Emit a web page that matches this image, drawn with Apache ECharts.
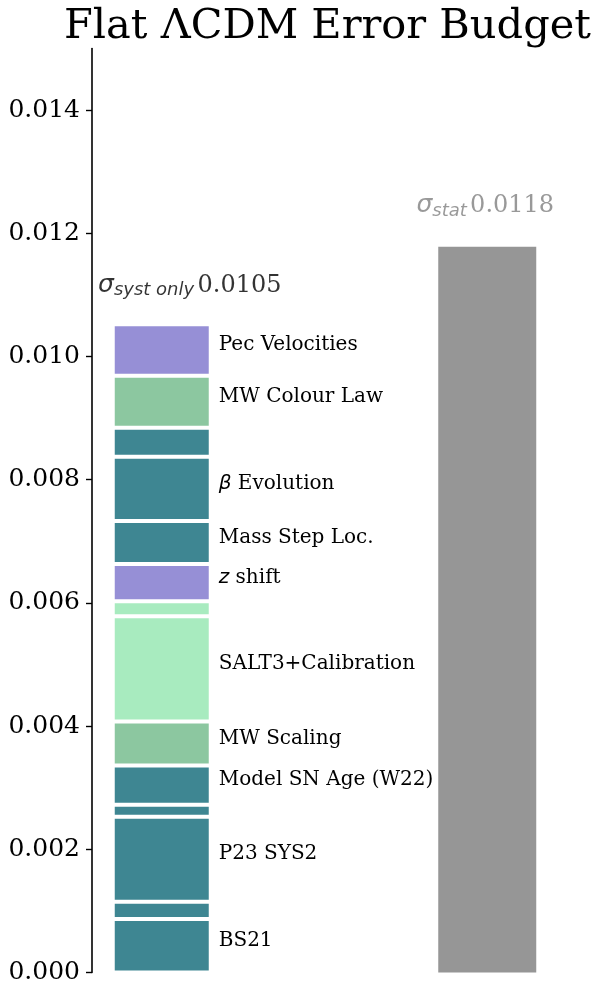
<!DOCTYPE html>
<html>
<head>
<meta charset="utf-8">
<script src="https://cdn.jsdelivr.net/npm/echarts@6/dist/echarts.min.js"></script>
<style>
  html, body { margin: 0; padding: 0; background: #fff; }
  #main { width: 592px; height: 990px; }
</style>
</head>
<body>
<div id="main"></div>
<script>
// systematic error contributions, stacked bottom -> top
const segValues = [0.000870, 0.000277, 0.001383, 0.000195, 0.000635, 0.000716, 0.001708,
  0.000244, 0.000602, 0.000699, 0.001042, 0.000472, 0.000846, 0.000834]
const segLabels = ['BS21', '', 'P23 SYS2', '', 'Model SN Age (W22)', 'MW Scaling', 'SALT3+Calibration',
  '', '{m|z} shift', 'Mass Step Loc.', '{m|β} Evolution', '', 'MW Colour Law', 'Pec Velocities']
const segColors = ['#3e8692', '#3e8692', '#3e8692', '#3e8692', '#3e8692', '#8cc7a0', '#a8ebbf',
  '#a8ebbf', '#968fd6', '#3e8692', '#3e8692', '#3e8692', '#8cc7a0', '#968fd6']
const sysTotal = 0.0105
const statValue = 0.01178
const tickValues = [0, 0.002, 0.004, 0.006, 0.008, 0.010, 0.012, 0.014]
// x slots; empty ones only space the two bars
const categories = ['', 'sys', '', '', '', '', '', '', 'stat', '']

const serif = 'DejaVu Serif'
const chart = echarts.init(document.getElementById('main'))

const onSlot = (name, v) => categories.map(c => c === name ? v : '-')

const sysSeries = segValues.map((v, i) => ({
  name: 'seg' + i,
  type: 'bar',
  stack: 'all',
  barWidth: 98,
  data: onSlot('sys', v),
  itemStyle: { color: segColors[i], borderColor: '#fff', borderWidth: 2 },
  label: {
    show: segLabels[i] !== '',
    position: 'right',
    distance: 8,
    offset: [0, -5],
    formatter: segLabels[i],
    color: '#000',
    fontFamily: serif,
    fontSize: 20,
    rich: { m: { fontFamily: 'DejaVu Sans', fontStyle: 'italic', fontSize: 20, color: '#000' } }
  },
  silent: true
}))

const option = {
  animation: false,
  title: {
    text: 'Flat \u039bCDM Error Budget',
    left: 59,
    top: 1,
    textStyle: { fontFamily: serif, fontSize: 41.5, fontWeight: 'normal', color: '#000' }
  },
  grid: { left: 92, right: 35, top: 48.5, bottom: 17.5, outerBoundsMode: 'none' },
  xAxis: { type: 'category', data: categories, show: false },
  yAxis: {
    type: 'value',
    min: 0,
    max: 0.015,
    splitLine: { show: false },
    axisLine: { show: true, lineStyle: { color: '#000', width: 1.6 } },
    axisTick: { show: true, length: 6, lineStyle: { color: '#000', width: 1.4 }, customValues: tickValues },
    axisLabel: {
      customValues: tickValues,
      formatter: v => v.toFixed(3),
      fontFamily: serif,
      fontSize: 25,
      color: '#000',
      margin: 12
    }
  },
  series: sysSeries.concat([
    {
      name: 'stat',
      type: 'bar',
      stack: 'all',
      barWidth: 98,
      data: onSlot('stat', statValue),
      itemStyle: { color: '#969696' },
      silent: true
    },
    {
      name: 'notes',
      type: 'scatter',
      symbolSize: 0,
      data: [
        { value: ['sys', sysTotal], label: {
          formatter: '{s|σ}{sub|syst only} {n|' + sysTotal.toFixed(4) + '}',
          offset: [28, -40] } },
        { value: ['stat', statValue], label: {
          formatter: '{sg|σ}{subg|stat} {ng|' + statValue.toFixed(4) + '}',
          offset: [-2, -41] } }
      ],
      label: {
        show: true,
        position: 'inside',
        rich: {
          s: { fontFamily: 'DejaVu Sans', fontStyle: 'italic', fontSize: 25, color: '#000' },
          sub: { fontFamily: 'DejaVu Sans', fontStyle: 'italic', fontSize: 18, color: '#000', padding: [10, 0, 0, 0] },
          n: { fontFamily: serif, fontSize: 24, color: '#000' },
          sg: { fontFamily: 'DejaVu Sans', fontStyle: 'italic', fontSize: 25, color: '#808080' },
          subg: { fontFamily: 'DejaVu Sans', fontStyle: 'italic', fontSize: 18, color: '#808080', padding: [10, 0, 0, 0] },
          ng: { fontFamily: serif, fontSize: 24, color: '#808080' }
        }
      },
      silent: true,
      z: 5
    }
  ])
}

chart.setOption(option)
</script>
</body>
</html>
